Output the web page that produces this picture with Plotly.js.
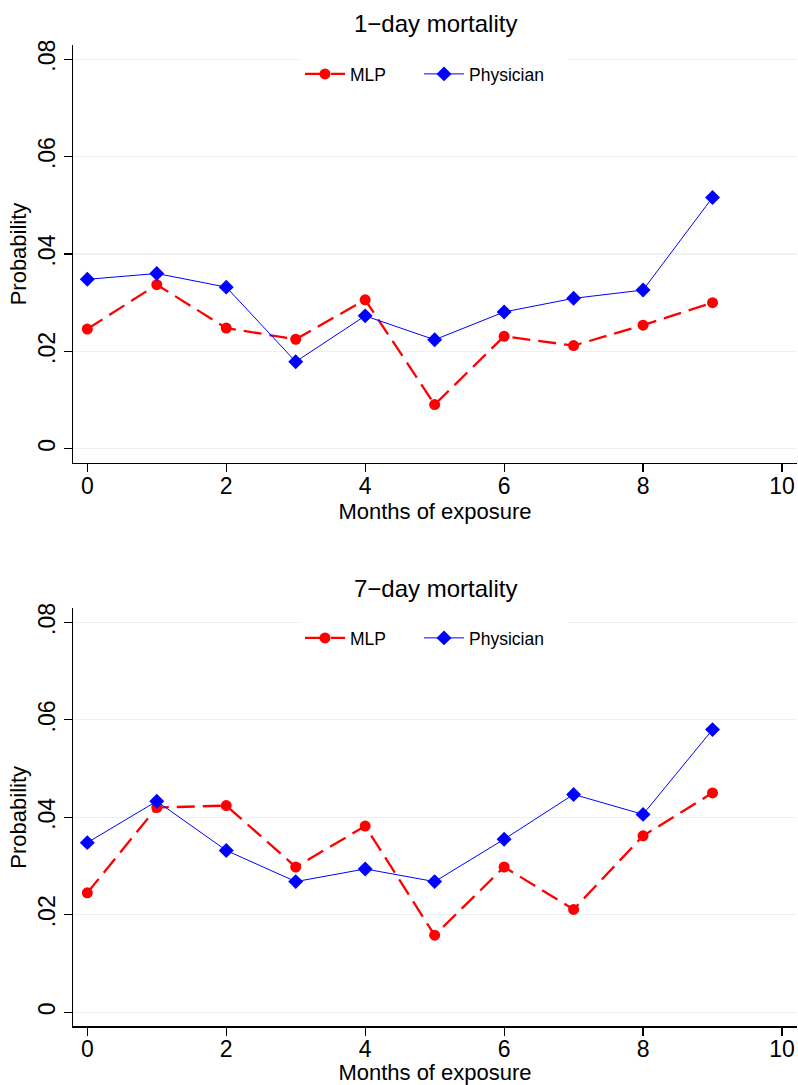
<!DOCTYPE html>
<html>
<head>
<meta charset="utf-8">
<script src="https://cdn.plot.ly/plotly-3.0.1.min.js"></script>
<style>
  html, body { margin: 0; padding: 0; background: #fff; }
  #chart { width: 798px; height: 1085px; }
</style>
</head>
<body>
<div id="chart"></div>
<script>
// Months of exposure (x values shared by both panels)
const months = [0, 1, 2, 3, 4, 5, 6, 7, 8, 9];

// 1-day mortality probabilities
const mlp1Day       = [0.0246, 0.0337, 0.0248, 0.0225, 0.0306, 0.0091, 0.0231, 0.0212, 0.0254, 0.0300];
const physician1Day = [0.0348, 0.0360, 0.0332, 0.0179, 0.0273, 0.0224, 0.0281, 0.0309, 0.0326, 0.0516];

// 7-day mortality probabilities
const mlp7Day       = [0.0245, 0.0420, 0.0424, 0.0298, 0.0382, 0.0158, 0.0298, 0.0211, 0.0362, 0.0450];
const physician7Day = [0.0348, 0.0433, 0.0332, 0.0268, 0.0294, 0.0268, 0.0355, 0.0447, 0.0406, 0.0580];

// Axis ticks and labels
const xTicks = [0, 2, 4, 6, 8, 10];
const yTickVals = [0, 0.02, 0.04, 0.06, 0.08];
const yTickText = ['0', '.02', '.04', '.06', '.08'];

const panelTitles = ['1\u2212day mortality', '7\u2212day mortality'];
const seriesNames = ['MLP', 'Physician'];

const FONT = 'Liberation Sans, Arial, Helvetica, sans-serif';
const W = 798, H = 1085;

const mlpStyle = {
  mode: 'lines+markers',
  legendwidth: 64,
  line: { color: '#ff0000', width: 2.3, dash: '18px,8px' },
  marker: { color: '#ff0000', symbol: 'circle', size: 11 }
};
const physStyle = {
  mode: 'lines+markers',
  legendwidth: 94,
  line: { color: '#0000ff', width: 1 },
  marker: { color: '#0000ff', symbol: 'diamond', size: 11.5 }
};

function trace(y, name, style, xa, ya, leg) {
  return Object.assign({
    x: months, y: y, name: name, type: 'scatter',
    xaxis: xa, yaxis: ya, legend: leg, hoverinfo: 'skip'
  }, JSON.parse(JSON.stringify(style)));
}

const data = [
  trace(mlp1Day, seriesNames[0], mlpStyle, 'x', 'y', 'legend'),
  trace(physician1Day, seriesNames[1], physStyle, 'x', 'y', 'legend'),
  trace(mlp7Day, seriesNames[0], mlpStyle, 'x2', 'y2', 'legend2'),
  trace(physician7Day, seriesNames[1], physStyle, 'x2', 'y2', 'legend2')
];

const px2py = p => 1 - p / H;   // pixel row -> paper y
const xDomain = [73 / W, 797 / W];

function xAxis(anchor) {
  return {
    domain: xDomain, anchor: anchor,
    range: [-0.206, 10.216],
    tickvals: xTicks,
    ticks: 'outside', ticklen: 8, tickwidth: 1.2, tickcolor: '#000',
    ticklabelstandoff: -6,
    showline: true, linecolor: '#000', linewidth: 1.2,
    showgrid: false, zeroline: false, automargin: false,
    tickfont: { family: FONT, size: 23, color: '#000' },
    title: { text: 'Months of exposure', font: { family: FONT, size: 22, color: '#000' }, standoff: 4 }
  };
}

function yAxis(anchor, top, bottom) {
  return {
    domain: [px2py(bottom), px2py(top)], anchor: anchor,
    range: [-0.0029, 0.0829],
    tickvals: yTickVals, ticktext: yTickText, tickangle: -90,
    ticks: 'outside', ticklen: 8, tickwidth: 1.2, tickcolor: '#000',
    showline: true, linecolor: '#000', linewidth: 1.2,
    showgrid: true, gridcolor: '#eaf2f3', gridwidth: 1.2,
    zeroline: false, automargin: false,
    tickfont: { family: FONT, size: 23, color: '#000' },
    title: { text: 'Probability', font: { family: FONT, size: 22, color: '#000' }, standoff: 0 }
  };
}

function legendBox(topPx) {
  return {
    orientation: 'h', x: 300 / W, xanchor: 'left',
    y: px2py(topPx), yanchor: 'top',
    bgcolor: '#ffffff', borderwidth: 0,
    itemwidth: 40,
    font: { family: FONT, size: 17.5, color: '#000' },
    itemclick: false, itemdoubleclick: false
  };
}

const layout = {
  width: W, height: H,
  margin: { l: 0, r: 0, t: 0, b: 0 },
  paper_bgcolor: '#fff', plot_bgcolor: '#fff',
  font: { family: FONT, color: '#000' },
  showlegend: true,
  xaxis: xAxis('y'),
  yaxis: yAxis('x', 45, 463),
  xaxis2: xAxis('y2'),
  yaxis2: yAxis('x2', 608.3, 1026.3),
  legend: legendBox(56),
  legend2: legendBox(620),
  annotations: [
    { text: panelTitles[0], xref: 'paper', yref: 'paper', x: 435 / W, y: px2py(24),
      xanchor: 'center', yanchor: 'middle', showarrow: false,
      font: { family: FONT, size: 24, color: '#000' } },
    { text: panelTitles[1], xref: 'paper', yref: 'paper', x: 435 / W, y: px2py(588),
      xanchor: 'center', yanchor: 'middle', showarrow: false,
      font: { family: FONT, size: 24, color: '#000' } }
  ]
};

Plotly.newPlot('chart', data, layout, { staticPlot: true, displayModeBar: false });
</script>
</body>
</html>
